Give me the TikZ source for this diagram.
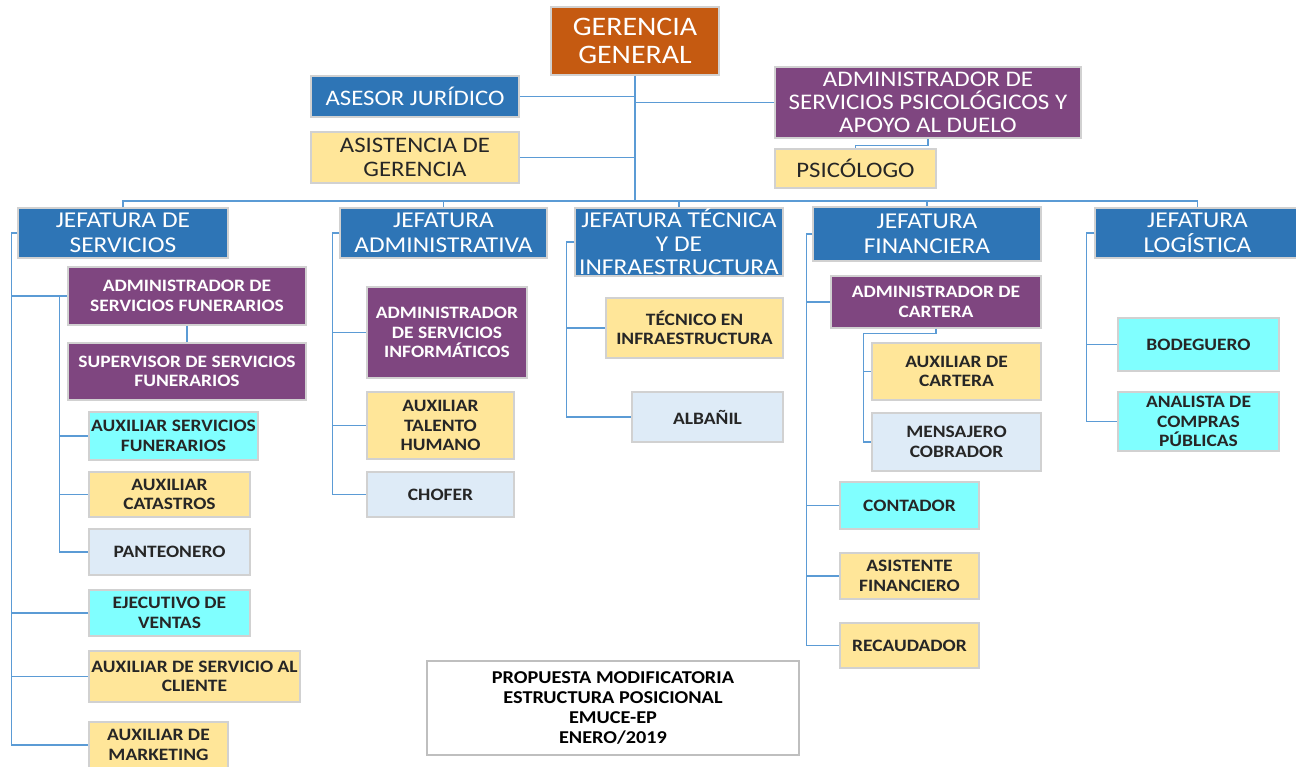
\documentclass[tikz,border=0pt]{standalone}
\usepackage{fontspec}
\setmainfont[FakeStretch=1.12]{Carlito}
\usetikzlibrary{calc}
\definecolor{gerOrange}{RGB}{197,90,17}
\definecolor{jefBlue}{RGB}{46,117,182}
\definecolor{admPurple}{RGB}{127,70,128}
\definecolor{auxYellow}{RGB}{255,230,153}
\definecolor{auxCyan}{RGB}{128,255,255}
\definecolor{auxGrey}{RGB}{222,235,247}
\definecolor{linkBlue}{RGB}{91,155,213}
\tikzset{
	sz/.style 2 args={minimum width=#1*0.02cm, minimum height=#2*0.02cm},
	box/.style={draw=black!18, line width=0.6pt, align=center, inner sep=0.5pt},
	big/.style={box, font=\fontsize{12.6}{13.6}\selectfont},
	small/.style={box, font=\bfseries\fontsize{9.9}{11}\selectfont},
	jefe/.style={box, fill=jefBlue, text=white, font=\fontsize{12.9}{14}\selectfont},
	admbig/.style={big, fill=admPurple, text=white, font=\fontsize{12.7}{13.2}\selectfont},
	adm/.style={small, fill=admPurple, text=white},
	amar/.style={small, fill=auxYellow, text=black!85},
	cian/.style={small, fill=auxCyan, text=black!85},
	gris/.style={small, fill=auxGrey, text=black!85},
	link/.style={draw=linkBlue, line width=0.9pt},
}

\begin{document}
\begin{tikzpicture}[x=0.02cm, y=-0.02cm]
		%%%%% START %%%%%
		\useasboundingbox (0,0) rectangle (1296,767);
		\clip (0,0) rectangle (1296,767);
		
		% cabeza
		\node[box, sz={168}{68}, fill=gerOrange, text=white, font=\fontsize{15.2}{16}\selectfont] (gg) at (635,41) {GERENCIA\\GENERAL};
		\node[big, sz={208}{41}, fill=jefBlue, text=white] (aj) at (415,96.5) {ASESOR JURÍDICO};
		\node[big, sz={208}{51}, fill=auxYellow, text=black!85] (ag) at (415,157.5) {ASISTENCIA DE\\GERENCIA};
		\node[admbig, sz={306}{71}] (adp) at (928,102.5) {ADMINISTRADOR DE\\SERVICIOS PSICOLÓGICOS Y\\APOYO AL DUELO};
		\node[big, sz={161}{39}, fill=auxYellow, text=black!85] (ps) at (855.5,168.5) {PSICÓLOGO};
		
		% jefaturas
		\node[jefe, sz={210}{50}] (js) at (123,233) {JEFATURA DE\\SERVICIOS};
		\node[jefe, sz={207}{50}] (ja) at (443.5,233) {JEFATURA\\ADMINISTRATIVA};
		\node[jefe, sz={208}{68}, font=\fontsize{12.9}{13.4}\selectfont] (jt) at (679,242) {JEFATURA TÉCNICA\\Y DE\\INFRAESTRUCTURA};
		\node[jefe, sz={228}{54}] (jf) at (927,234) {JEFATURA\\FINANCIERA};
		\node[jefe, sz={205}{50}] (jl) at (1197.5,233) {JEFATURA\\LOGÍSTICA};
		
		% servicios
		\node[adm, sz={238}{58}] (am) at (187,296) {ADMINISTRADOR DE\\SERVICIOS FUNERARIOS};
		\node[adm, sz={238}{57}] (su) at (187,371.5) {SUPERVISOR DE SERVICIOS\\FUNERARIOS};
		\node[cian, sz={169}{48}] (asf) at (173.5,436) {AUXILIAR SERVICIOS\\FUNERARIOS};
		\node[amar, sz={161}{45}] (cat) at (169.5,494.5) {AUXILIAR\\CATASTROS};
		\node[gris, sz={161}{46}] (pa) at (169.5,552) {PANTEONERO};
		\node[cian, sz={161}{46}] (ev) at (169.5,613) {EJECUTIVO DE\\VENTAS};
		\node[amar, sz={211}{51}] (asc) at (194.5,676.5) {AUXILIAR DE SERVICIO AL\\CLIENTE};
		\node[amar, sz={139}{46}] (mk) at (158.5,745) {AUXILIAR DE\\MARKETING};
		
		% administrativa
		\node[adm, sz={160}{91}] (ai) at (447,332.5) {ADMINISTRADOR\\DE SERVICIOS\\INFORMÁTICOS};
		\node[amar, sz={147}{67}] (th) at (440.5,425.5) {AUXILIAR\\TALENTO\\HUMANO};
		\node[gris, sz={147}{45}] (ch) at (440.5,494.5) {CHOFER};
		
		% tecnica
		\node[amar, sz={177}{60}] (ti) at (694.5,328) {TÉCNICO EN\\INFRAESTRUCTURA};
		\node[gris, sz={151}{50}] (al) at (707.5,417) {ALBAÑIL};
		
		% financiera
		\node[adm, sz={210}{52}] (ac) at (936,302) {ADMINISTRADOR DE\\CARTERA};
		\node[amar, sz={169}{57}] (xc) at (956.5,371.5) {AUXILIAR DE\\CARTERA};
		\node[gris, sz={169}{58}] (mc) at (956.5,442) {MENSAJERO\\COBRADOR};
		\node[cian, sz={139}{47}] (co) at (909.5,505.5) {CONTADOR};
		\node[amar, sz={139}{46}] (af) at (909.5,576) {ASISTENTE\\FINANCIERO};
		\node[amar, sz={139}{45}] (re) at (909.5,645.5) {RECAUDADOR};
		
		% logistica
		\node[cian, sz={161}{53}] (bo) at (1198.5,344.5) {BODEGUERO};
		\node[cian, sz={161}{59}] (an) at (1198.5,421.5) {ANALISTA DE\\COMPRAS\\PÚBLICAS};
		
		\node[box, sz={372}{94}, fill=white, draw=black!25, font=\bfseries\fontsize{10.3}{11.3}\selectfont] (pm) at (613,708) {PROPUESTA MODIFICATORIA\\ESTRUCTURA POSICIONAL\\EMUCE-EP\\ENERO/2019};
		
		% lineas
		\coordinate (bus) at (0,201);
		\draw[link] (gg.south) -- (gg.south |- bus);
		\draw[link] (aj.east) -- (aj.east -| gg.south);
		\draw[link] (ag.east) -- (ag.east -| gg.south);
		\draw[link] (adp.west) -- (adp.west -| gg.south);
		\draw[link] (adp.south) -- ++(0,7) -| (ps.north);
		\draw[link] (js.north) |- (jl.north |- bus) -- (jl.north);
		\foreach \j in {ja,jt,jf} \draw[link] (\j.north) -- (\j.north |- bus);
		
		\draw[link] (js.west) -- ++(-6,0) coordinate (sv) |- (mk.west);
		\foreach \n in {am,ev,asc} \draw[link] (sv |- \n.west) -- (\n.west);
		\draw[link] (am.west) ++(-8,0) coordinate (sw) |- (pa.west);
		\foreach \n in {asf,cat} \draw[link] (sw |- \n.west) -- (\n.west);
		\draw[link] (am.south) -- (su.north);
		
		\draw[link] (ja.west) -- ++(-7,0) coordinate (av) |- (ch.west);
		\foreach \n in {ai,th} \draw[link] (av |- \n.west) -- (\n.west);
		
		\draw[link] (jt.west) -- ++(-8,0) coordinate (tv) |- (al.west);
		\draw[link] (tv |- ti.west) -- (ti.west);
		
		\draw[link] (jf.west) -- ++(-6,0) coordinate (fv) |- (re.west);
		\foreach \n in {ac,co,af} \draw[link] (fv |- \n.west) -- (\n.west);
		\draw[link] (ac.south) -- ++(0,5) -| ($(mc.west)+(-8,0)$) coordinate (cv) -- (mc.west);
		\draw[link] (cv |- xc.west) -- (xc.west);
		
		\draw[link] (jl.west) -- ++(-8,0) coordinate (lv) |- (an.west);
		\draw[link] (lv |- bo.west) -- (bo.west);
		
		%%%%% END %%%%%
	\end{tikzpicture}
\end{document}
